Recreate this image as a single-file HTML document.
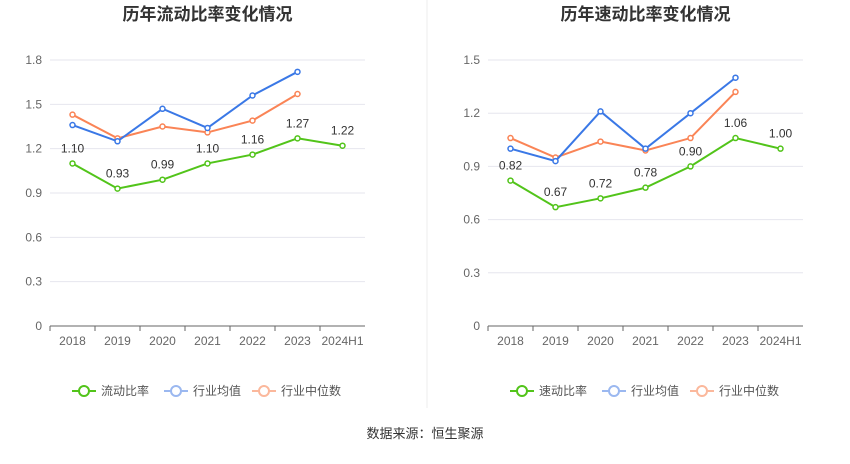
<!DOCTYPE html>
<html><head><meta charset="utf-8"><style>
body{margin:0;background:#fff;font-family:"Liberation Sans","Noto Sans CJK SC",sans-serif;}
svg text{font-family:"Liberation Sans","Noto Sans CJK SC",sans-serif;}
</style></head><body>
<svg id="c" width="850" height="459" xmlns="http://www.w3.org/2000/svg">
<line x1="427" y1="0" x2="427" y2="408" stroke="#eeeeee"/>
<text x="850" y="438" font-size="13" fill="#333" text-anchor="middle" transform="translate(-425,0)">数据来源：恒生聚源</text>
</svg>
<script>
const categories=["2018","2019","2020","2021","2022","2023","2024H1"];
const currentRatio=[1.10,0.93,0.99,1.10,1.16,1.27,1.22];
const currentIndustryAvg=[1.36,1.25,1.47,1.34,1.56,1.72];
const currentIndustryMedian=[1.43,1.27,1.35,1.31,1.39,1.57];
const quickRatio=[0.82,0.67,0.72,0.78,0.90,1.06,1.00];
const quickIndustryAvg=[1.00,0.93,1.21,1.00,1.20,1.40];
const quickIndustryMedian=[1.06,0.95,1.04,0.99,1.06,1.32];
const leftTicks=["0","0.3","0.6","0.9","1.2","1.5","1.8"];
const rightTicks=["0","0.3","0.6","0.9","1.2","1.5"];
const svg=document.getElementById('c');
const NS="http://www.w3.org/2000/svg";
function mk(tag,attrs,parent){const e=document.createElementNS(NS,tag);for(const k in attrs)e.setAttribute(k,attrs[k]);(parent||svg).appendChild(e);return e;}
function panel(cfg){
  const g=mk('g',{});
  
  
  const x0=cfg.x0,x1=cfg.x1,yTop=60,yBot=326,max=cfg.max;
  const step=(x1-x0)/categories.length;
  const xs=i=>x0+step*(i+0.5);
  const ys=v=>yBot-(v/max)*(yBot-yTop);
  const t=mk('text',{x:(x0+x1)/2,y:20,'font-size':17,'font-weight':'bold',fill:'#333','text-anchor':'middle'},g);
  t.textContent=cfg.title;
  
  
  cfg.ticks.forEach(tk=>{
    const v=parseFloat(tk),y=ys(v);
    if(v>0){const l=mk('line',{x1:x0,x2:x1,y1:y,y2:y,stroke:'#e6e6ee'},g);
    
    }
    const tx=mk('text',{x:x0-8,y:y+4,'font-size':12,fill:'#666','text-anchor':'end'},g);
    tx.textContent=tk;
    
    
  });
  const ax=mk('line',{x1:x0,x2:x1,y1:yBot,y2:yBot,stroke:'#666'},g);
  
  
  categories.forEach((c,i)=>{
    const tkl=mk('line',{x1:x0+step*i,x2:x0+step*i,y1:yBot,y2:yBot+5,stroke:'#666'},g);
    
    
    const tx=mk('text',{x:xs(i),y:yBot+19,'font-size':12,fill:'#666','text-anchor':'middle'},g);
    tx.textContent=c;
    
    
  });
  const series=[[cfg.median,'#fa8456','industry-median-line'],[cfg.avg,'#3a78e6','industry-average-line'],[cfg.main,'#52c41a','main-ratio-line']];
  series.forEach(([d,col,nm],si)=>{
    const p=mk('polyline',{points:d.map((v,i)=>xs(i)+','+ys(v)).join(' '),fill:'none',stroke:col,'stroke-width':2},g);
    
    
    d.forEach((v,i)=>{
      const c=mk('circle',{cx:xs(i),cy:ys(v),r:2.5,fill:'#fff',stroke:col,'stroke-width':1.5},g);
      
      
      if(si===2){
        const lb=mk('text',{x:xs(i),y:ys(v)-11,'font-size':12,fill:'#333','text-anchor':'middle'},g);
        lb.textContent=v.toFixed(2);
        
        
      }
    });
  });
  const leg=[[cfg.mainName,'#52c41a',x0+22],['行业均值','#9bb8f0',x0+114],['行业中位数','#fbb89c',x0+202]];
  leg.forEach(([n,col,lx])=>{
    const lg=mk('g',{},g);
    
    
    mk('line',{x1:lx,x2:lx+24,y1:391,y2:391,stroke:col,'stroke-width':2},lg);
    mk('circle',{cx:lx+12,cy:391,r:5,fill:'#fff',stroke:col,'stroke-width':2},lg);
    const tx=mk('text',{x:lx+29,y:395,'font-size':12,fill:'#555'},lg);
    tx.textContent=n;
  });
}
panel({name:'current-ratio-chart',title:'历年流动比率变化情况',x0:50,x1:365,max:1.8,ticks:leftTicks,main:currentRatio,avg:currentIndustryAvg,median:currentIndustryMedian,mainName:'流动比率'});
panel({name:'quick-ratio-chart',title:'历年速动比率变化情况',x0:488,x1:803,max:1.5,ticks:rightTicks,main:quickRatio,avg:quickIndustryAvg,median:quickIndustryMedian,mainName:'速动比率'});
</script>
</body></html>
